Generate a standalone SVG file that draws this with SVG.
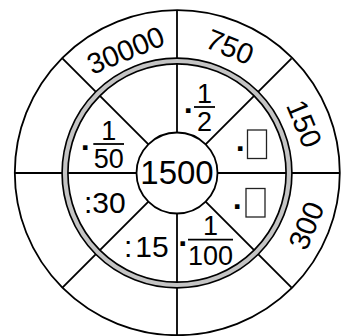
<svg xmlns="http://www.w3.org/2000/svg" width="353" height="336" viewBox="0 0 353 336">
<style>
.ln{stroke:#000;stroke-width:1.8;fill:none}
.t{font-family:"Liberation Sans",Arial,sans-serif;fill:#000}
.o{font-size:29px;text-anchor:middle}
.f{font-size:27px;text-anchor:middle}
.c{font-size:30px}
.d{font-size:32px;text-anchor:middle;font-weight:bold}
.bar{stroke:#000;stroke-width:1.8}
.box{fill:none;stroke:#222;stroke-width:1.3}
</style>
<rect width="353" height="336" fill="#fff"/>
<g id="connectors">
<line class="ln" x1="177" y1="132" x2="177" y2="10.5"/>
<line class="ln" x1="177" y1="213.5" x2="177" y2="335"/>
<line class="ln" x1="136.5" y1="173" x2="14" y2="173"/>
<line class="ln" x1="217.5" y1="173" x2="340" y2="173"/>
<line class="ln" x1="205.6" y1="144.4" x2="291.6" y2="58.4"/>
<line class="ln" x1="148.4" y1="144.4" x2="62.4" y2="58.4"/>
<line class="ln" x1="205.6" y1="201.6" x2="291.6" y2="287.6"/>
<line class="ln" x1="148.4" y1="201.6" x2="62.4" y2="287.6"/>
</g>
<g id="outer-ring">
<circle class="ln" cx="177.3" cy="172.7" r="162.5"/>
</g>
<g id="gray-ring">
<circle cx="177" cy="173" r="112" fill="none" stroke="#000" stroke-width="7.5"/>
<circle cx="177" cy="173" r="112" fill="none" stroke="#c4c4c4" stroke-width="4.2"/>
</g>
<g id="center">
<circle class="ln" cx="177" cy="173" r="40.5" fill="#fff"/>
<text class="t" x="177" y="184" font-size="33" text-anchor="middle">1500</text>
</g>
<g id="o30000"><text class="t o" transform="translate(125.5,50) rotate(-22.5)" y="10.4">30000</text></g>
<g id="o750"><text class="t o" transform="translate(230,46.5) rotate(22.5)" y="10.4">750</text></g>
<g id="o150"><text class="t o" transform="translate(304.5,123.5) rotate(67.5)" y="10.4">150</text></g>
<g id="o300"><text class="t o" transform="translate(306,225.5) rotate(-67.5)" y="10.4">300</text></g>
<g id="i-half">
<text class="t d" x="189" y="121">·</text>
<line class="bar" x1="194" y1="107" x2="215" y2="107"/>
<text class="t f" x="204.5" y="103">1</text>
<text class="t f" x="204.5" y="130.5">2</text>
</g>
<g id="i-box1">
<text class="t d" x="241" y="159">·</text>
<rect class="box" x="247.5" y="130" width="19" height="28.5"/>
</g>
<g id="i-box2">
<text class="t d" x="238" y="217">·</text>
<rect class="box" x="246" y="188.5" width="19" height="28.5"/>
</g>
<g id="i-hundredth">
<text class="t d" x="183.5" y="253.7">·</text>
<line class="bar" x1="188" y1="239.7" x2="233" y2="239.7"/>
<text class="t f" x="210.5" y="234.7">1</text>
<text class="t f" x="210.5" y="264.7">100</text>
</g>
<g id="i-15"><text class="t c" x="124" y="256.5">:<tspan dx="3">15</tspan></text></g>
<g id="i-30"><text class="t c" x="84" y="212.7">:30</text></g>
<g id="i-fiftieth">
<text class="t d" x="86" y="158">·</text>
<line class="bar" x1="93.3" y1="144" x2="124" y2="144"/>
<text class="t f" x="108.7" y="139.5">1</text>
<text class="t f" x="108.7" y="168.3">50</text>
</g>
</svg>
